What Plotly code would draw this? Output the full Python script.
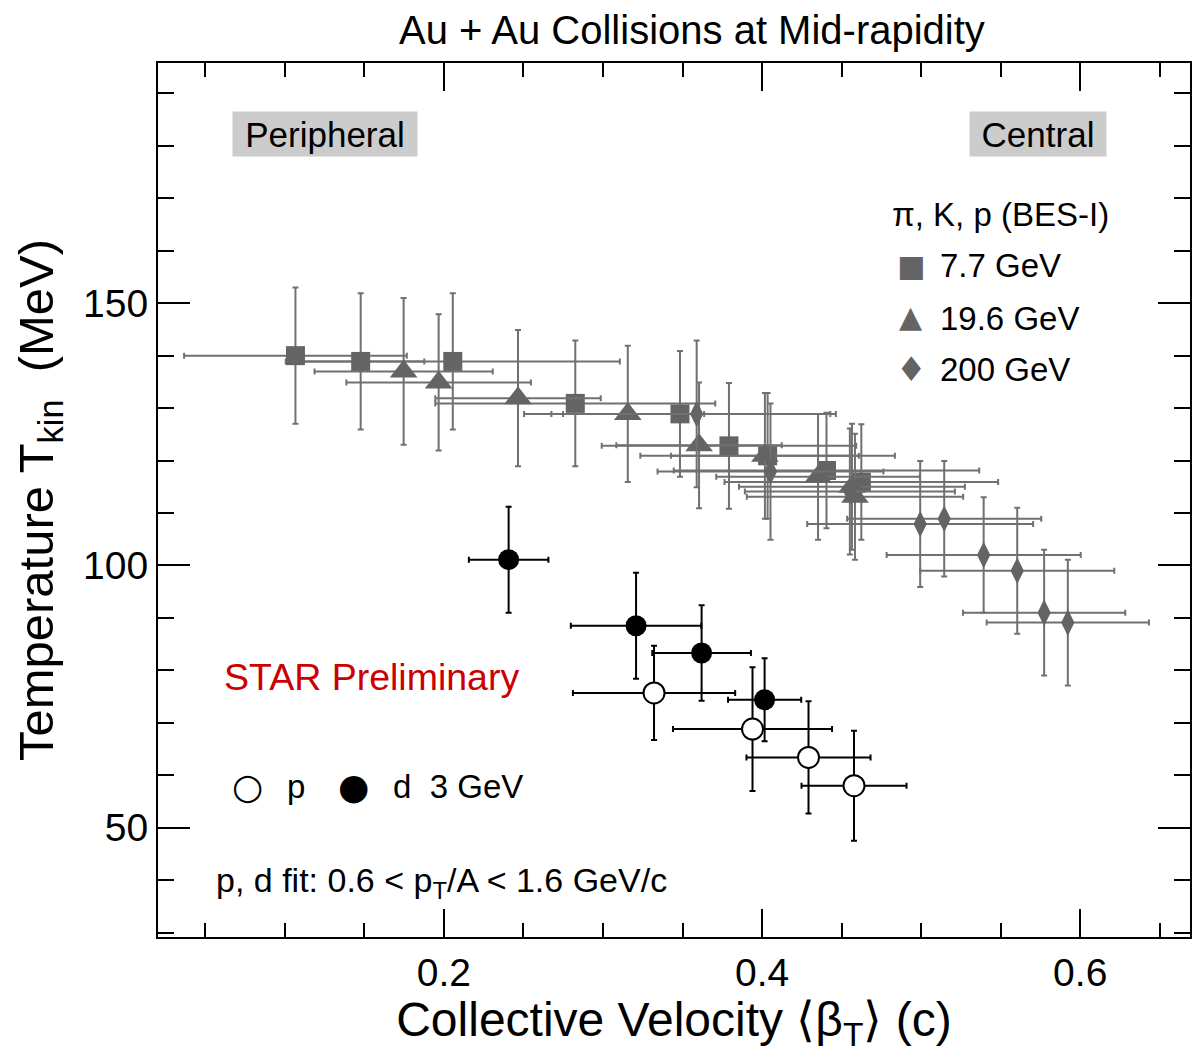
import plotly.graph_objects as go

# ---- data ----
# pi, K, p (BES-I) 7.7 GeV
sq_x = [0.1067, 0.1477, 0.2056, 0.2826, 0.3484, 0.3792, 0.4035, 0.4405, 0.4624]
sq_y = [140.0, 138.9, 138.9, 130.9, 128.9, 122.8, 120.9, 118.1, 115.9]
sq_xe = [0.070, 0.040, 0.105, 0.088, 0.098, 0.080, 0.080, 0.096, 0.086]
sq_ye = [13, 13, 13, 12, 12, 12, 12, 11, 11]

# 19.6 GeV
tr_x = [0.1747, 0.1967, 0.2466, 0.3156, 0.3604, 0.4018, 0.4352, 0.4565, 0.4584]
tr_y = [137.0, 134.9, 131.9, 128.9, 122.9, 120.9, 116.9, 115.0, 113.1]
tr_xe = [0.056, 0.058, 0.052, 0.048, 0.052, 0.059, 0.064, 0.071, 0.068]
tr_ye = [14, 13, 13, 13, 12, 12, 12, 12, 12]

# 200 GeV
di_x = [0.3589, 0.4053, 0.4552, 0.4994, 0.5145, 0.5393, 0.5604, 0.5773, 0.5922]
di_y = [128.9, 117.9, 114.1, 107.9, 108.9, 102.0, 99.0, 91.0, 89.1]
di_xe = [0.084, 0.071, 0.066, 0.071, 0.061, 0.061, 0.061, 0.051, 0.051]
di_ye = [14, 13, 12, 12, 11, 11, 12, 12, 12]

# 3 GeV deuterons
d_x = [0.2407, 0.3208, 0.3620, 0.4016]
d_y = [101.1, 88.5, 83.3, 74.4]
d_xe = [0.025, 0.041, 0.031, 0.023]
d_ye = [10.1, 10.1, 9.1, 7.9]

# 3 GeV protons
p_x = [0.3321, 0.3940, 0.4292, 0.4578]
p_y = [75.7, 68.8, 63.4, 58.0]
p_xe = [0.051, 0.050, 0.039, 0.033]
p_ye = [9.0, 11.8, 10.7, 10.5]

series_names = ["7.7 GeV", "19.6 GeV", "200 GeV"]

FONT = "Liberation Sans, Arial, Helvetica, sans-serif"
GLYPH = "DejaVu Sans"
GRAY = "#646464"
GRAY_BAR = "#707070"

# plot-area geometry (pixels) used to place paper-referenced labels
L, R, T, B = 158, 1192, 63, 937


def px(xp):
    return (xp - L) / (R - L)


def py(yp):
    return (B - yp) / (B - T)


def err(arr, color):
    return dict(type="data", array=arr, visible=True, color=color, thickness=2, width=3)


fig = go.Figure()

fig.add_trace(go.Scatter(
    x=sq_x, y=sq_y, mode="markers", name=series_names[0],
    marker=dict(symbol="square", size=19, color=GRAY, line=dict(width=0)),
    error_x=err(sq_xe, GRAY_BAR), error_y=err(sq_ye, GRAY_BAR)))
fig.add_trace(go.Scatter(
    x=tr_x, y=tr_y, mode="markers", name=series_names[1],
    marker=dict(symbol="triangle-up", size=24, color=GRAY, line=dict(width=0)),
    error_x=err(tr_xe, GRAY_BAR), error_y=err(tr_ye, GRAY_BAR)))
fig.add_trace(go.Scatter(
    x=di_x, y=di_y, mode="markers", name=series_names[2],
    marker=dict(symbol="diamond-tall", size=19, color=GRAY, line=dict(width=0)),
    error_x=err(di_xe, GRAY_BAR), error_y=err(di_ye, GRAY_BAR)))
fig.add_trace(go.Scatter(
    x=p_x, y=p_y, mode="markers", name="p",
    marker=dict(symbol="circle", size=21, color="white", line=dict(width=2, color="black")),
    error_x=err(p_xe, "black"), error_y=err(p_ye, "black")))
fig.add_trace(go.Scatter(
    x=d_x, y=d_y, mode="markers", name="d",
    marker=dict(symbol="circle", size=21, color="black", line=dict(width=0)),
    error_x=err(d_xe, "black"), error_y=err(d_ye, "black")))

axis_common = dict(
    showline=True, linecolor="black", linewidth=2, mirror="allticks",
    ticks="inside", tickwidth=2, tickcolor="black", showgrid=False, zeroline=False,
    tickfont=dict(family=FONT, size=39, color="black"),
)

fig.update_xaxes(
    range=[0.0203, 0.669], tick0=0, dtick=0.2, ticklen=28,
    minor=dict(dtick=0.05, ticklen=14, ticks="inside", tickwidth=2, tickcolor="black", showgrid=False),
    title=dict(text="Collective Velocity ⟨β<sub>T</sub>⟩ (c)", font=dict(family=FONT, size=48, color="black"), standoff=4),
    **axis_common)
fig.update_yaxes(
    range=[29.16, 195.8], tick0=0, dtick=50, ticklen=32,
    minor=dict(dtick=10, ticklen=16, ticks="inside", tickwidth=2, tickcolor="black", showgrid=False),
    title=dict(text="Temperature T<sub>kin</sub>  (MeV)", font=dict(family=FONT, size=49, color="black"), standoff=14),
    **axis_common)


def text_ann(text, x, y, size, color="black", xanchor="left", family=FONT, **kw):
    d = dict(text=text, x=x, y=y, xref="paper", yref="paper", xanchor=xanchor, yanchor="middle",
             showarrow=False, font=dict(family=family, size=size, color=color))
    d.update(kw)
    return d


annotations = [
    text_ann("Au + Au Collisions at Mid-rapidity", px(693.5), py(30), 40, xanchor="center"),
    text_ann("Peripheral", px(325), py(134), 35, xanchor="center",
             bgcolor="#cccccc", width=184, height=44, borderpad=0),
    text_ann("Central", px(1040), py(134), 35, xanchor="center",
             bgcolor="#cccccc", width=136, height=44, borderpad=0),
    text_ann("STAR Preliminary", px(222), py(677), 37.5, color="#cc0000"),
    text_ann("p, d fit: 0.6 &lt; p<sub>T</sub>/A &lt; 1.6 GeV/c", px(214), py(882), 34),
    # BES-I legend
    text_ann("π, K, p (BES-I)", px(891), py(214), 33),
    text_ann("■", px(912), py(265), 30, color=GRAY, xanchor="center", family=GLYPH),
    text_ann(series_names[0], px(940), py(265), 33),
    text_ann("▲", px(912), py(316), 30, color=GRAY, xanchor="center", family=GLYPH),
    text_ann(series_names[1], px(940), py(318), 33),
    text_ann("♦", px(912), py(369), 34, color=GRAY, xanchor="center", family=GLYPH),
    text_ann(series_names[2], px(940), py(369), 33),
    # p / d legend
    text_ann("○", px(248), py(786), 36, xanchor="center", family=GLYPH),
    text_ann("p", px(285), py(786), 33),
    text_ann("●", px(354), py(786), 36, xanchor="center", family=GLYPH),
    text_ann("d  3 GeV", px(391), py(786), 33),
]

fig.update_layout(
    width=1192, height=1053,
    margin=dict(l=L, r=1192 - R, t=T, b=1053 - B),
    paper_bgcolor="white", plot_bgcolor="white",
    font=dict(family=FONT, color="black"),
    annotations=annotations,
    showlegend=False,
)

fig.write_html("out.html")
